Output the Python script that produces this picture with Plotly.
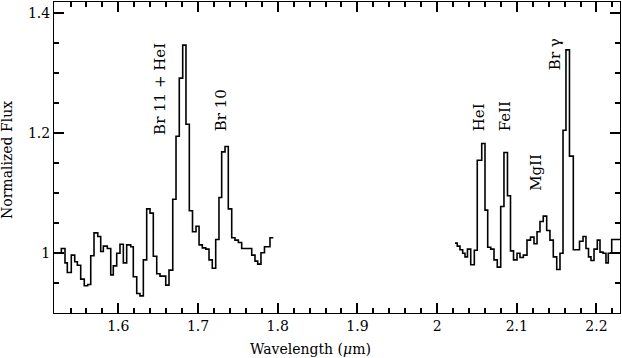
import plotly.graph_objects as go

# bin edges (um) and normalized flux, H band segment
h_edges = [1.519, 1.5285, 1.5331, 1.5360, 1.5410, 1.5453, 1.5486, 1.5528, 1.5573, 1.5616,
           1.5654, 1.5695, 1.5742, 1.5779, 1.5812, 1.5862, 1.5905, 1.5937, 1.5980, 1.6021,
           1.6063, 1.6105, 1.6156, 1.6188, 1.6231, 1.6272, 1.6314, 1.6356, 1.6398, 1.6439,
           1.6482, 1.6523, 1.6565, 1.6595, 1.6636, 1.6683, 1.6724, 1.6765, 1.6808, 1.6849,
           1.6891, 1.6931, 1.6975, 1.7013, 1.7054, 1.7097, 1.7138, 1.7179, 1.7222, 1.7263,
           1.7297, 1.7339, 1.7380, 1.7423, 1.7464, 1.7506, 1.7548, 1.7590, 1.7631, 1.7674,
           1.7715, 1.7749, 1.7790, 1.7834, 1.7872, 1.7903, 1.7945]
h_flux = [1.001, 1.008, 0.984, 0.968, 0.997, 0.986, 0.980, 0.957, 0.946, 0.948,
          0.996, 1.034, 1.028, 1.003, 1.012, 1.008, 0.964, 0.979, 1.000, 1.015,
          0.984, 1.014, 1.011, 0.961, 0.933, 0.929, 0.989, 1.074, 1.067, 0.995,
          0.966, 0.962, 0.962, 0.947, 0.972, 1.090, 1.195, 1.292, 1.347, 1.215,
          1.071, 1.036, 1.045, 1.014, 1.009, 1.007, 0.989, 0.975, 1.023, 1.093,
          1.169, 1.178, 1.074, 1.026, 1.022, 1.018, 1.008, 1.008, 1.008, 0.997,
          0.987, 0.982, 1.001, 1.011, 1.011, 1.026]

# K band segment
k_edges = [2.0225, 2.0253, 2.0287, 2.0321, 2.0350, 2.0381, 2.0422, 2.0467, 2.0504, 2.0560,
           2.0601, 2.0635, 2.0673, 2.0714, 2.0755, 2.0798, 2.0839, 2.0883, 2.0921, 2.0959,
           2.1003, 2.1040, 2.1082, 2.1128, 2.1172, 2.1216, 2.1254, 2.1291, 2.1332, 2.1375,
           2.1416, 2.1458, 2.1501, 2.1542, 2.1580, 2.1617, 2.1661, 2.1709, 2.1749, 2.1787,
           2.1831, 2.1868, 2.1900, 2.1931, 2.1969, 2.2010, 2.2044, 2.2082, 2.2119, 2.2148,
           2.2191, 2.2300]
k_flux = [1.017, 1.012, 1.006, 1.000, 0.994, 1.007, 0.981, 1.005, 1.155, 1.183,
          1.072, 1.010, 1.007, 0.989, 0.977, 1.078, 1.168, 1.096, 1.004, 0.989,
          1.000, 0.993, 0.997, 1.022, 1.027, 1.016, 1.036, 1.053, 1.062, 1.038,
          1.022, 0.994, 0.973, 1.000, 1.205, 1.339, 1.162, 1.006, 1.006, 1.020,
          1.028, 1.008, 0.994, 0.988, 1.007, 1.022, 1.002, 1.000, 0.984, 1.000,
          1.023]

line_labels = ["Br 11 + HeI", "Br 10", "HeI", "FeII", "MgII", "Br γ"]
label_wave = [1.6523, 1.7289, 2.0526, 2.0853, 2.1242, 2.1480]
label_flux = [1.194, 1.200, 1.200, 1.200, 1.100, 1.302]

X_RANGE = [1.5193, 2.2295]
Y_RANGE = [0.9005, 1.4188]
FONT = "DejaVu Serif"
black_font = dict(family=FONT, size=14, color="black")
label_font = dict(family=FONT, size=15, color="black")

fig = go.Figure()
for edges, flux in [(h_edges, h_flux), (k_edges, k_flux)]:
    fig.add_trace(go.Scatter(
        x=edges,
        y=flux + [flux[-1]],
        mode="lines",
        line=dict(color="black", width=1.6, shape="hv"),
        showlegend=False,
        hoverinfo="skip",
    ))

for text, xw, yf in zip(line_labels, label_wave, label_flux):
    fig.add_annotation(x=xw, y=yf, text=text, textangle=-90, showarrow=False,
                       xanchor="center", yanchor="bottom", font=label_font)

# axis titles placed by hand
fig.add_annotation(xref="paper", yref="paper", x=0.453, y=-0.116, text="Wavelength (<i>μ</i>m)",
                   showarrow=False, xanchor="center", yanchor="middle", font=black_font)
fig.add_annotation(xref="paper", yref="paper", x=-0.083, y=0.492, text="Normalized Flux",
                   textangle=-90, showarrow=False, xanchor="center", yanchor="middle", font=black_font)

# inside ticks mirrored on all four sides, like the small red/blue test that did show them
axis_style = dict(
    ticks="inside", ticklen=10, tickwidth=2, tickcolor="#000000",
    showline=True, linecolor="black", mirror="allticks",
    gridcolor="rgba(0,0,0,0)",
)

fig.update_layout(
    width=622, height=358,
    margin=dict(l=54, r=2, t=2, b=45),
    font=black_font,
    paper_bgcolor="white", plot_bgcolor="white",
    xaxis=dict(range=X_RANGE, dtick=0.1, tick0=1.6,
               minor=dict(dtick=0.02, ticks="inside", ticklen=5, tickwidth=2, tickcolor="#000000"),
               **axis_style),
    yaxis=dict(range=Y_RANGE, dtick=0.2, tick0=1.0,
               minor=dict(dtick=0.05, ticks="inside", ticklen=5, tickwidth=2, tickcolor="#000000"),
               **axis_style),
)

# drop the browser's default body margin so the figure sits at the window corner
fig.write_html("out.html", config={"displayModeBar": False},
               post_script="document.body.style.margin='0';")
